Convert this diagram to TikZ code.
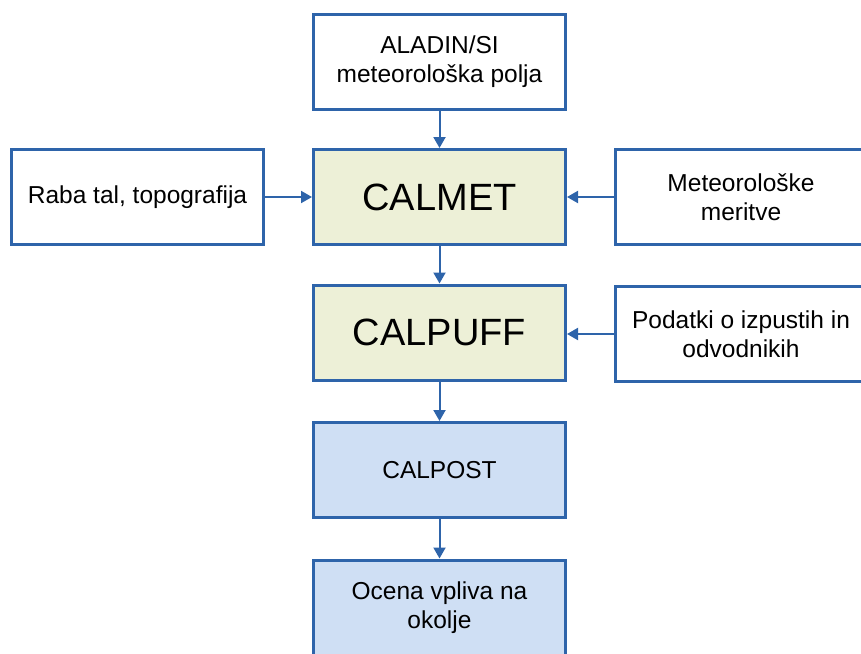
\documentclass[tikz,border=0pt]{standalone}
\usepackage{fontspec}
\setmainfont{Liberation Sans}
\usetikzlibrary{arrows.meta}
\definecolor{bord}{RGB}{46,100,170}
\definecolor{calg}{RGB}{237,240,215}
\definecolor{calb}{RGB}{207,223,244}
\begin{document}
\begin{tikzpicture}[x=1pt,y=-1pt,
  box/.style={draw=bord, line width=3pt, fill=white, rectangle,
    minimum width=252pt, minimum height=95pt, align=center,
    font=\fontsize{24.5}{29}\selectfont, inner sep=0pt},
  big/.style={font=\fontsize{38}{44}\selectfont},
  conn/.style={draw=bord, line width=2pt, -{Triangle[length=11pt,width=12pt]}}]
\useasboundingbox (0,0) rectangle (861,653);
\clip (0,0) rectangle (861,653);
\node[box] (aladin) at (439.5,61.5) {ALADIN/SI\\meteorološka polja};
\node[box, fill=calg, big] (calmet) at (439.5,197) {CALMET};
\node[box, fill=calg, big] (calpuff) at (439.5,332.5) {CALPUFF};
\node[box, fill=calb] (calpost) at (439.5,470) {CALPOST};
\node[box, fill=calb] (ocena) at (439.5,607.5) {Ocena vpliva na\\okolje};
\node[box] (raba) at (137.5,197) {Raba tal, topografija};
\node[box] (meteo) at (741,197) {Meteorološke\\meritve};
\node[box] (podatki) at (741,334) {Podatki o izpustih in\\odvodnikih};
\draw[conn] (aladin) -- (calmet);
\draw[conn] (calmet) -- (calpuff);
\draw[conn] (calpuff) -- (calpost);
\draw[conn] (calpost) -- (ocena);
\draw[conn] (raba) -- (calmet);
\draw[conn] (meteo) -- (calmet);
\draw[conn] (podatki.west) -- (calpuff.east |- podatki.west);
\end{tikzpicture}
\end{document}
